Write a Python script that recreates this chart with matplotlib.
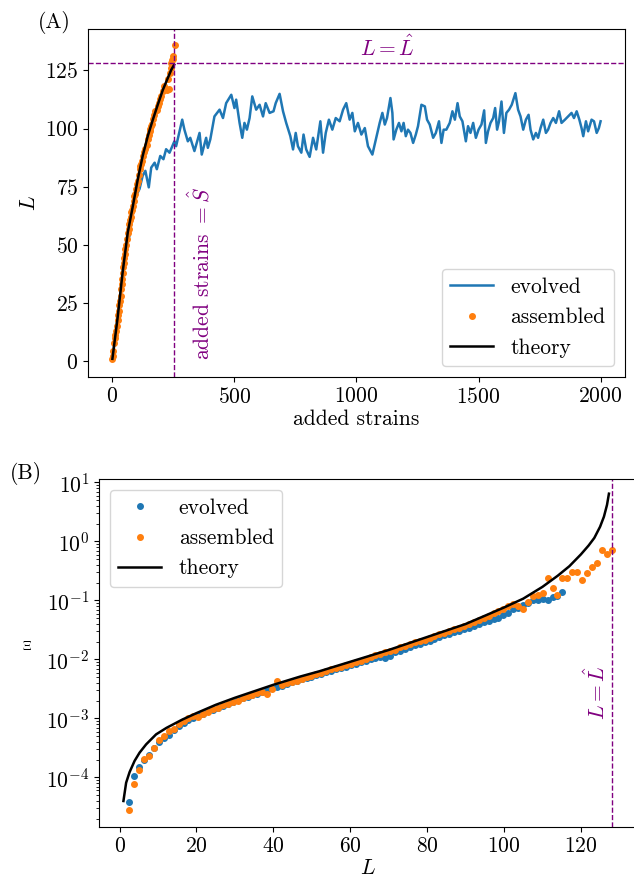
import numpy as np
import matplotlib
matplotlib.use('Agg')
import matplotlib.pyplot as plt

plt.rcParams['font.family'] = 'serif'
plt.rcParams['font.serif'] = ['cmr10']
plt.rcParams['mathtext.fontset'] = 'cm'
plt.rcParams['axes.formatter.use_mathtext'] = True
plt.rcParams['font.size'] = 15.5

L_hat = 128
S_hat = 253

# (A) evolved community size vs number of added strains
evo_S = [0, 10, 20, 30, 40, 50, 60, 70, 84, 97, 111, 124, 135, 149, 159, 173, 182, 196, 209, 220,
         234, 254, 261, 286, 295, 309, 319, 336, 357, 366, 384, 391, 401, 418, 439, 453, 466, 487,
         500, 507, 521, 532, 541, 551, 562, 573, 589, 603, 617, 628, 644, 660, 669, 685, 699, 712,
         729, 740, 751, 760, 774, 783, 794, 808, 822, 835, 852, 863, 874, 887, 901, 915, 931, 945,
         958, 972, 983, 993, 1006, 1020, 1034, 1047, 1065, 1081, 1095, 1106, 1116, 1125, 1139, 1147,
         1152, 1163, 1174, 1184, 1193, 1202, 1211, 1221, 1232, 1243, 1252, 1266, 1280, 1289, 1300,
         1314, 1325, 1338, 1348, 1357, 1368, 1382, 1393, 1403, 1414, 1423, 1434, 1448, 1457, 1467,
         1478, 1489, 1500, 1512, 1523, 1530, 1539, 1549, 1560, 1568, 1576, 1584, 1594, 1604, 1614,
         1625, 1636, 1651, 1662, 1672, 1683, 1694, 1705, 1713, 1724, 1735, 1744, 1754, 1765, 1776,
         1785, 1795, 1806, 1817, 1830, 1840, 1854, 1867, 1881, 1891, 1902, 1913, 1922, 1929, 1940,
         1949, 1963, 1973, 1984, 1993, 2000]
evo_L = [1, 9, 18, 27, 36, 44, 50, 54, 64, 71.1, 74, 79.7, 81.8, 74.7, 83.2, 85.3, 82.5, 88.2, 86.8, 91.1,
         89.6, 94.5, 92.4, 103.8, 99.5, 94.5, 96.0, 90.3, 98.1, 88.8, 96.0, 91.7, 95.3, 105.2, 108.1, 104.5, 110.9, 114.5,
         108.8, 112.4, 102.4, 96.0, 102.4, 99.5, 104.5, 113.8, 108.1, 110.2, 105.2, 110.9, 106.7, 107.4, 110.9, 114.9, 107.4, 102.4,
         96.7, 91.0, 98.1, 92.4, 89.6, 97.4, 91.0, 87.8, 96.0, 91.0, 103.1, 89.6, 98.1, 103.8, 99.5, 104.5, 103.1, 108.1,
         110.9, 103.8, 106.7, 98.8, 102.4, 97.4, 100.2, 92.4, 88.8, 96.0, 102.4, 106.7, 101.7, 104.5, 113.1, 106.7,
         95.3, 99.5, 102.4, 98.8, 102.4, 96.7, 99.5, 98.1, 93.8, 97.4, 101.0, 110.2, 109.5, 103.8, 101.7,
         96.0, 98.1, 103.1, 93.8, 99.5, 99.5, 102.4, 107.4, 103.8, 110.9, 105.2, 103.1, 94.5, 101.0, 98.1,
         102.4, 96.0, 99.5, 101.7, 107.8, 93.8, 98.8, 102.4, 104.5, 108.8, 99.5, 103.1, 111.6, 98.1, 106.7,
         108.1, 110.2, 115.2, 108.1, 105.2, 99.5, 103.8, 105.9, 99.5, 95.3, 98.1, 96.0, 100.2, 103.8, 98.1,
         99.5, 102.4, 104.5, 102.4, 107.4, 102.4, 103.8, 105.2, 106.7, 104.5, 107.4, 103.8, 100.2, 96.7, 103.1,
         98.8, 103.8, 103.1, 98.1, 100.2, 103.1]

asm_S = [0, 1, 4, 8, 10, 12, 15, 18, 22, 24, 26, 29, 32, 34, 36, 38, 40, 43, 45, 47, 49, 51, 53, 56, 59,
         63, 67, 70, 73, 75, 77, 80, 84, 87, 90, 94, 97, 100, 104, 108, 111, 115, 118, 121, 124, 130,
         135, 140, 145, 148, 152, 156, 159, 164, 168, 172, 176, 181, 186, 190, 196, 200, 206, 213, 222,
         230, 227, 234, 238, 241, 244, 248, 250, 258]
asm_L = [1, 2, 4.2, 7.8, 10, 11.4, 13, 15, 17.8, 20, 21.4, 24, 25.7, 28, 31.2, 33, 35.5, 38, 40.6, 42, 44.2, 46, 48.3, 50, 52.6,
         55, 56.9, 59, 60.5, 62, 64.1, 65, 66.8, 69, 71.1, 72, 74.0, 76, 77.6, 80, 82.5, 84, 84.7, 86, 88.2, 90,
         91.1, 93, 95.4, 97, 98.9, 100, 101.1, 102, 103.9, 106, 107.5, 108, 109.6, 111, 112.5, 114, 116, 118.2, 116.5,
         117, 121.1, 123.9, 126, 128.2, 129.5, 131, 130, 136]

theo_S = [0, 21, 42, 63, 84, 104, 124, 145, 166, 186, 207, 227, 241, 253]
theo_L = [1, 18.4, 38.3, 55.4, 66.8, 78.2, 88.2, 96.8, 103.9, 110.3, 116.7, 121.7, 125.2, 127.4]

# (B) Xi vs community size, points on a grid of L = 1.28 n
n_evo = np.arange(2, 91)
n_asm = np.arange(2, 101)
xi_evo_log = [-4.41, -3.98, -3.82, -3.71, -3.62, -3.50, -3.40, -3.34, -3.28, -3.20, -3.13, -3.08, -3.03, -2.99,
              -2.95, -2.92, -2.88, -2.85, -2.82, -2.79, -2.76, -2.73, -2.69, -2.66, -2.63, -2.61, -2.58, -2.55,
              -2.51, -2.48, -2.47, -2.45, -2.42, -2.39, -2.37, -2.34, -2.32, -2.29, -2.27, -2.25, -2.22, -2.19,
              -2.17, -2.14, -2.12, -2.10, -2.07, -2.05, -2.02, -1.99, -1.97, -1.96, -1.97, -1.95, -1.88, -1.85,
              -1.82, -1.79, -1.76, -1.73, -1.70, -1.68, -1.65, -1.62, -1.59, -1.57, -1.54, -1.52, -1.49, -1.46,
              -1.43, -1.40, -1.37, -1.34, -1.31, -1.29, -1.25, -1.21, -1.15, -1.12, -1.08, -1.04, -1.00, -1.00,
              -0.98, -1.00, -0.94, -0.92, -0.86]
xi_asm_log = [-4.56, -4.11, -3.88, -3.68, -3.63, -3.50, -3.37, -3.30, -3.22, -3.18, -3.10, -3.05, -3.00, -2.96,
              -2.97, -2.92, -2.89, -2.84, -2.83, -2.78, -2.75, -2.72, -2.70, -2.66, -2.62, -2.60, -2.57, -2.55,
              -2.58, -2.50, -2.36, -2.43, -2.40, -2.38, -2.36, -2.33, -2.30, -2.28, -2.25, -2.23, -2.20, -2.17,
              -2.15, -2.12, -2.09, -2.07, -2.04, -2.02, -1.99, -1.96, -1.93, -1.91, -1.88, -1.85, -1.84, -1.79,
              -1.77, -1.74, -1.71, -1.68, -1.67, -1.63, -1.60, -1.57, -1.55, -1.52, -1.49, -1.46, -1.43, -1.40,
              -1.37, -1.33, -1.30, -1.26, -1.22, -1.18, -1.15, -1.10, -1.06, -1.10, -1.15, -1.03, -0.92, -0.90,
              -0.88, -0.62, -0.79, -0.91, -0.62, -0.62, -0.51, -0.51, -0.65, -0.53, -0.44, -0.37, -0.14, -0.21,
              -0.14]
theo2_L = [1, 1.7, 2.6, 3.9, 5.2, 6.9, 9.5, 12.2, 16.3, 20, 25, 30, 40, 47, 52, 60, 70, 80, 90, 100,
           105, 110, 114, 117, 120, 122, 123.5, 125, 126, 126.8, 127.3]
theo2_log = [-4.40, -4.09, -3.91, -3.72, -3.58, -3.44, -3.27, -3.16, -3.02, -2.91, -2.77, -2.65, -2.43, -2.29,
             -2.20, -2.04, -1.84, -1.62, -1.40, -1.12, -0.97, -0.77, -0.58, -0.42, -0.22, -0.07, 0.06, 0.25,
             0.42, 0.62, 0.81]

fig = plt.figure(figsize=(6.34, 8.82), dpi=100)
ax1 = fig.add_axes([0.1388, 0.5726, 0.847, 0.3946])
ax2 = fig.add_axes([0.1562, 0.0624, 0.847, 0.3946])

# ---- panel A
ax1.plot(evo_S, evo_L, color='C0', lw=1.8, label='evolved')
ax1.plot(asm_S, asm_L, 'o', color='C1', ms=4, label='assembled')
ax1.plot(theo_S, theo_L, color='black', lw=1.8, label='theory')
ax1.axhline(L_hat, color='purple', ls='--', lw=1)
ax1.axvline(S_hat, color='purple', ls='--', lw=1)
ax1.text(1125, 135, r'$L=\hat{L}$', color='purple', ha='center', va='center')
ax1.text(360, 0.5, r'added strains $=\hat{S}$', color='purple', rotation=90, ha='center', va='bottom')
ax1.set_xlim(-100, 2100)
ax1.set_ylim(-6.8, 142.8)
ax1.set_xticks([0, 500, 1000, 1500, 2000])
ax1.set_yticks([0, 25, 50, 75, 100, 125])
ax1.set_xlabel('added strains', labelpad=2)
ax1.set_ylabel(r'$L$')
ax1.legend(loc='lower right')
fig.text(0.085, 0.975, '(A)', ha='center', va='center')

# ---- panel B
ax2.plot(n_evo * 1.28, 10 ** np.array(xi_evo_log), 'o', color='C0', ms=4, label='evolved')
ax2.plot(n_asm * 1.28, 10 ** np.array(xi_asm_log), 'o', color='C1', ms=4, label='assembled')
ax2.plot(theo2_L, 10 ** np.array(theo2_log), color='black', lw=1.8, label='theory')
ax2.axvline(L_hat, color='purple', ls='--', lw=1)
ax2.text(124, 10 ** -2.56, r'$L=\hat{L}$', color='purple', rotation=90, ha='center', va='center')
ax2.set_yscale('log')
ax2.set_xlim(-5.35, 134.35)
ax2.set_ylim(10 ** -4.84, 10 ** 1.06)
ax2.set_xticks([0, 20, 40, 60, 80, 100, 120])
ax2.set_xlabel(r'$L$', labelpad=2)
ax2.set_ylabel(r'$\Xi$', fontsize=9, rotation=0, labelpad=14)
ax2.legend(loc='upper left')
fig.text(0.041, 0.4637, '(B)', ha='center', va='center')

fig.savefig('out.png', dpi=100)
